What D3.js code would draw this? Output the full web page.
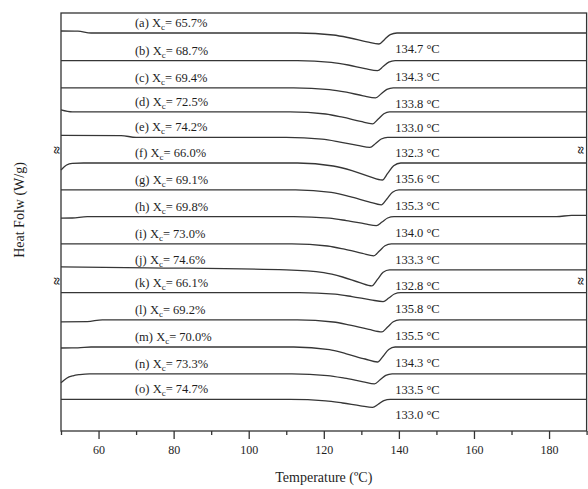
<!DOCTYPE html>
<html>
<head>
<meta charset="utf-8">
<script src="https://cdn.jsdelivr.net/npm/d3@7"></script>
<style>
  body { margin: 0; background: #fff; }
  svg { display: block; font-family: 'Liberation Serif', 'Times New Roman', serif; }
  .trace { fill: none; stroke: #363636; stroke-width: 1.3px; }
  .label { font-size: 12.5px; fill: #1e1e1e; }
  .axis text { font-family: 'Liberation Serif', serif; font-size: 12px; fill: #1e1e1e; }
  .axis line { stroke: #333; stroke-width: 1.3px; }
</style>
</head>
<body>
<svg id="chart" width="588" height="489"></svg>
<script>
// sample letters, crystallinity (%) and melting peak (°C)
const letters = ['a', 'b', 'c', 'd', 'e', 'f', 'g', 'h', 'i', 'j', 'k', 'l', 'm', 'n', 'o'];
const crystallinity = [65.7, 68.7, 69.4, 72.5, 74.2, 66.0, 69.1, 69.8, 73.0, 74.6, 66.1, 69.2, 70.0, 73.3, 74.7];
const peakTemps = [134.7, 134.3, 133.8, 133.0, 132.3, 135.6, 135.3, 134.0, 133.3, 132.8, 135.8, 135.5, 134.3, 133.5, 133.0];

// vertical offset of each curve (arbitrary heat flow units)
const baselines = [99.5, 92.6, 85.8, 79.8, 73.4, 67.0, 60.3, 53.6, 46.8, 40.3, 34.6, 27.8, 21.0, 14.3, 7.9];

// curves: [temperature, heat flow relative to baseline]
const traceA = [[50, 0.5], [54.5, 0.45], [58, 0], [113, 0], [122.5, -0.5], [127, -1.25], [131.5, -2.2], [134.7, -2.75], [136.2, -1.6], [137.7, -0.4], [139.5, 0], [190, 0]];
const traceB = [[50, 0], [113, 0], [122, -0.45], [126.5, -1.1], [131, -2], [134.3, -2.5], [135.8, -1.5], [137.3, -0.4], [139, 0], [190, 0]];
const traceC = [[50, 0], [112, 0], [121.5, -0.45], [126, -1.1], [130.5, -2], [133.8, -2.5], [135.3, -1.5], [136.8, -0.4], [138.5, 0], [190, 0]];
const traceD = [[50, 0.5], [53, 0], [111, 0], [120.5, -0.55], [125, -1.35], [129.8, -2.4], [133, -3], [134.5, -1.8], [136, -0.5], [137.5, 0], [190, 0]];
const traceE = [[50, 0.5], [66, 0.45], [70, 0], [110, 0], [119.5, -0.45], [124, -1.1], [129, -2], [132.3, -2.5], [133.8, -1.5], [135.3, -0.4], [137, 0], [190, 0]];
const traceF = [[50, -1.75], [51.5, -0.5], [53, -0.1], [56, 0], [113, 0], [122.5, -0.75], [127.5, -1.9], [132.2, -3.4], [135.6, -4.25], [137, -2.6], [138.6, -0.7], [140.5, 0], [190, 0]];
const traceG = [[50, 0], [112.5, 0], [122, -0.65], [127, -1.7], [132, -3], [135.3, -3.75], [136.8, -2.3], [138.3, -0.6], [140, 0], [190, 0]];
const traceH = [[50, -0.4], [53, -0.35], [57, 0], [112, 0], [121.5, -0.4], [126, -1], [131, -1.8], [134, -2.25], [135.5, -1.35], [137, -0.35], [138.7, 0], [182, 0], [186, 0.3], [190, 0.3]];
const traceI = [[50, 0], [111.5, 0], [121, -0.55], [125.5, -1.35], [130.3, -2.4], [133.3, -3], [134.8, -1.8], [136.3, -0.5], [138, 0], [190, 0]];
const traceJ = [[50, 0.75], [73, 0.5], [110, 0], [120, -0.7], [125, -1.8], [129.6, -3.2], [132.8, -4], [134.3, -2.4], [135.8, -0.6], [137.5, 0], [190, 0]];
const traceK = [[50, 0], [113.5, 0], [123, -0.4], [127.5, -1], [132.5, -1.8], [135.8, -2.25], [137.3, -1.35], [138.8, -0.35], [140.5, 0], [190, 0]];
const traceL = [[50, -0.5], [57, -0.45], [61, 0], [113, 0], [122.5, -0.55], [127, -1.35], [132, -2.4], [135.5, -3], [137, -1.8], [138.5, -0.5], [140.2, 0], [190, 0]];
const traceM = [[50, -0.25], [54.5, -0.22], [58, 0], [112, 0], [121.5, -0.65], [126, -1.7], [131, -3], [134.3, -3.75], [135.8, -2.3], [137.3, -0.6], [139, 0], [190, 0]];
const traceN = [[50, -2.25], [51.5, -1.1], [53.2, -0.5], [55, -0.2], [57.6, 0], [111.5, 0], [121, -0.45], [125.5, -1.1], [130.5, -2], [133.5, -2.5], [135, -1.5], [136.5, -0.4], [138.2, 0], [190, 0]];
const traceO = [[50, 0], [111, 0], [120.5, -0.35], [125, -0.9], [129.8, -1.6], [133, -2], [134.5, -1.2], [136, -0.3], [137.7, 0], [190, 0]];
const traces = [traceA, traceB, traceC, traceD, traceE, traceF, traceG, traceH, traceI, traceJ, traceK, traceL, traceM, traceN, traceO];

// axis breaks sit between these curve pairs
const breakAfter = [4, 9];

const majorTicks = [60, 80, 100, 120, 140, 160, 180];
const minorTicks = [50, 70, 90, 110, 130, 150, 170, 190];

const width = 588;
const height = 489;
const margin = { top: 13, right: 1.4, bottom: 58, left: 61 };

const x = d3.scaleLinear()
  .domain([50, 190])
  .range([margin.left, width - margin.right]);

const y = d3.scaleLinear()
  .domain([0, 104.5])
  .range([height - margin.bottom, margin.top]);

const svg = d3.select('#chart');

// frame
svg.append('rect')
  .attr('x', margin.left)
  .attr('y', margin.top)
  .attr('width', width - margin.right - margin.left)
  .attr('height', height - margin.bottom - margin.top)
  .attr('fill', 'none')
  .attr('stroke', '#333')
  .attr('stroke-width', 1.3);

const line = d3.line()
  .x(d => x(d[0]))
  .y(d => y(d[1]))
  .curve(d3.curveMonotoneX);

svg.append('g')
  .selectAll('path')
  .data(traces)
  .enter()
  .append('path')
  .attr('class', 'trace')
  .attr('d', (t, i) => line(t.map(p => [p[0], baselines[i] + p[1]])));

// crystallinity labels above each curve
const xc = svg.append('g')
  .selectAll('text')
  .data(letters)
  .enter()
  .append('text')
  .attr('class', 'label')
  .attr('x', x(69.7))
  .attr('y', (d, i) => y(baselines[i]) - 6);

xc.append('tspan').text(d => `(${d}) X`);
xc.append('tspan').attr('dy', 3).attr('font-size', '9px').text('c');
xc.append('tspan').attr('dy', -3).text((d, i) => `= ${crystallinity[i].toFixed(1)}%`);

// peak temperatures under each dip
svg.append('g')
  .selectAll('text')
  .data(peakTemps)
  .enter()
  .append('text')
  .attr('class', 'label')
  .attr('x', x(139))
  .attr('y', (d, i) => y(baselines[i]) + 20)
  .text(d => `${d.toFixed(1)} \u00b0C`);

// x axis
const xAxis = d3.axisBottom(x)
  .tickValues(majorTicks)
  .tickSize(8)
  .tickPadding(6);

const xMinor = d3.axisBottom(x)
  .tickValues(minorTicks)
  .tickSize(4)
  .tickFormat('');

svg.append('g')
  .attr('class', 'axis')
  .attr('transform', `translate(0, ${height - margin.bottom})`)
  .call(xMinor)
  .call(g => g.select('.domain').remove());

svg.append('g')
  .attr('class', 'axis')
  .attr('transform', `translate(0, ${height - margin.bottom})`)
  .call(xAxis)
  .call(g => g.select('.domain').remove());

// break marks on both side axes
breakAfter.forEach((k) => {
  const by = (y(baselines[k]) + y(baselines[k + 1])) / 2;
  [margin.left - 5, width - margin.right - 6].forEach((bx) => {
    svg.append('text')
      .attr('transform', `translate(${bx}, ${by}) rotate(90)`)
      .attr('text-anchor', 'middle')
      .attr('dominant-baseline', 'central')
      .attr('font-size', '14px')
      .attr('font-weight', 'bold')
      .attr('fill', '#222')
      .text('\u2248');
  });
});

svg.append('text')
  .attr('x', (margin.left + width - margin.right) / 2)
  .attr('y', 482)
  .attr('text-anchor', 'middle')
  .attr('font-size', '14px')
  .attr('fill', '#1e1e1e')
  .text('Temperature (\u00baC)');

svg.append('text')
  .attr('transform', 'translate(24, 210) rotate(-90)')
  .attr('text-anchor', 'middle')
  .attr('font-size', '14px')
  .attr('fill', '#1e1e1e')
  .text('Heat Folw (W/g)');
</script>
</body>
</html>
